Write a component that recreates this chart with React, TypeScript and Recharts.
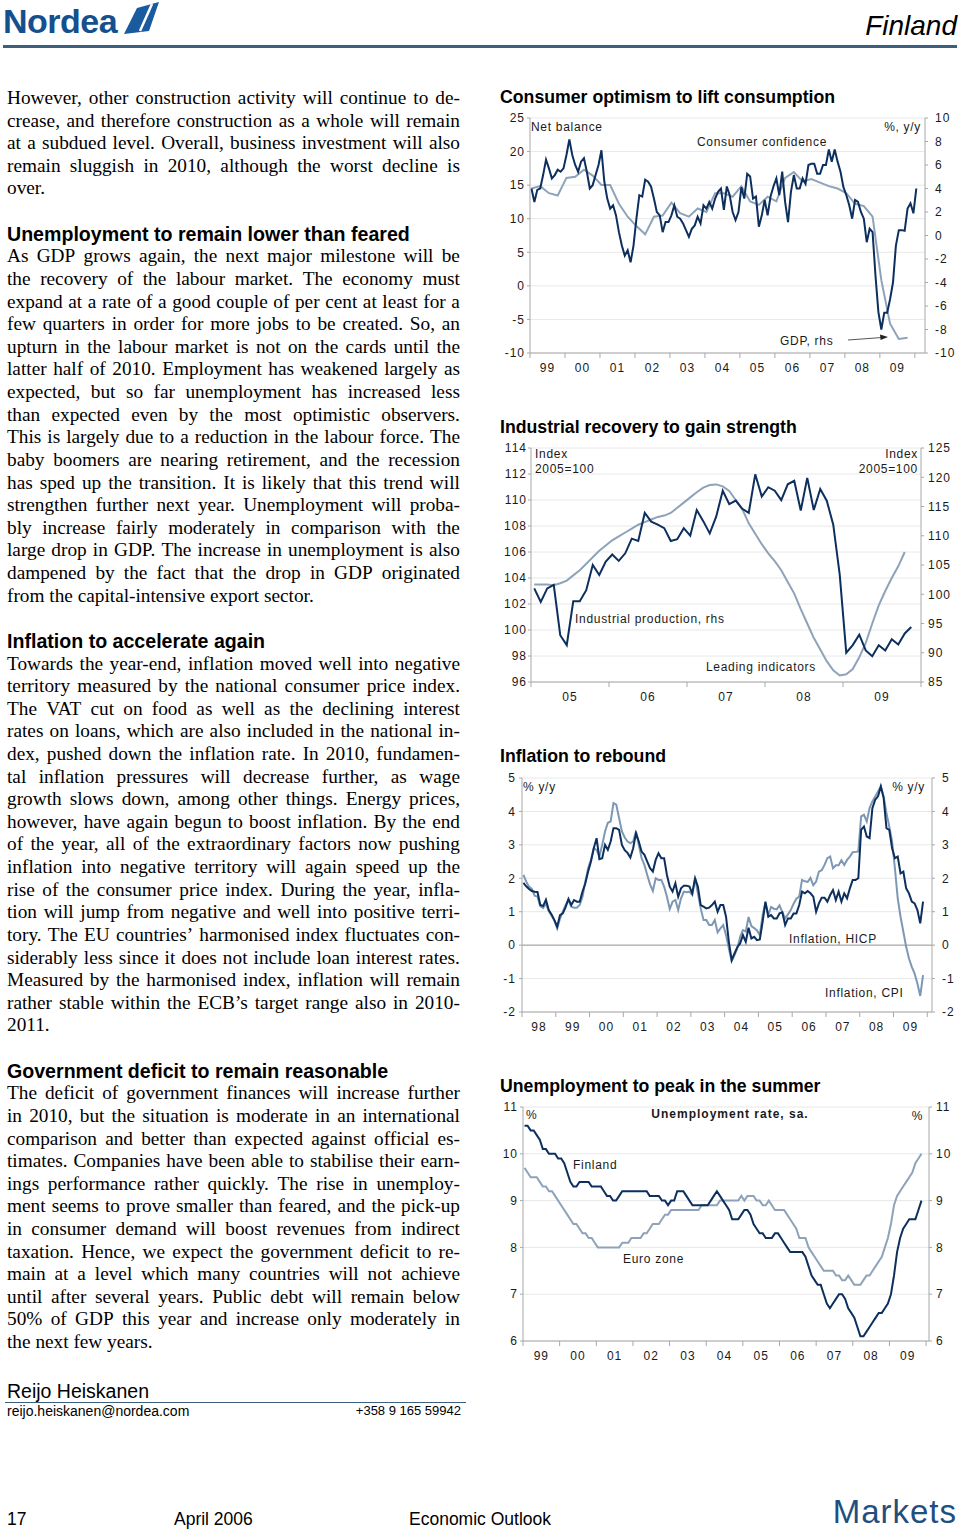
import React from 'react';
import { LineChart, Line, XAxis, YAxis, CartesianGrid, ReferenceLine } from 'recharts';

const SANS = '"Liberation Sans", Arial, sans-serif';
const SERIF = '"Liberation Serif", "Times New Roman", serif';
const DARK = '#0c2f5e';
const LIGHT = '#8ea3b9';
const AXIS = '#a8a8a8';
const BLUE = '#14508e';

// ---- Consumer optimism (monthly from Jan 1999, GDP quarterly) ----
const confidence = [
  14.5, 12.5, 14.3, 14.5, 16.5, 18.8, 17.5, 16.0, 16.5, 17.3, 17.0, 17.5,
  19.5, 21.8, 19.5, 18.0, 17.0, 18.5, 19.0, 17.0, 14.5, 15.0, 16.5, 18.0,
  20.2, 15.5, 13.0, 11.5, 12.0, 10.5, 8.0, 6.0, 4.5, 5.3, 3.5, 6.0,
  10.0, 13.5, 13.3, 15.8, 15.5, 14.8, 13.0, 11.0, 10.5, 8.0, 9.5, 9.5,
  10.5, 12.0, 10.3, 10.0, 9.3, 8.3, 7.3, 8.5, 9.0, 10.3, 9.3, 12.0,
  11.5, 12.5, 11.5, 13.0, 14.0, 14.5, 11.3, 14.8, 13.5, 11.0, 9.8, 11.0,
  14.7, 13.0, 16.7, 16.3, 13.0, 13.3, 8.8, 10.5, 12.8, 10.5, 13.3, 14.8,
  16.0, 13.5, 17.0, 12.5, 9.5, 14.0, 16.5, 14.5, 14.5, 16.0, 15.2, 18.0,
  18.2, 18.2, 16.7, 16.7, 18.0, 18.0, 20.3, 18.5, 20.3, 18.5, 17.0, 14.7,
  13.5, 12.0, 10.0, 12.8, 12.5, 11.0, 10.0, 6.5, 8.5, 8.0, 1.5, -3.9,
  -6.5, -4.0, -4.0, -2.0, 0.5, 6.0, 8.3, 8.3, 8.2, 11.5, 12.3, 10.8,
  14.5,
];
const gdp = [
  4.0, 4.2, 3.6, 3.4, 4.9, 5.0, 5.6, 5.1, 4.3, 4.3, 2.7, 1.6,
  0.8, 0.1, 1.6, 1.7, 2.8, 1.9, 1.6, 2.3, 2.0, 3.6, 3.6, 3.3,
  4.2, 2.9, 2.6, 3.3, 2.9, 4.9, 5.4, 4.6, 4.8, 4.5, 4.2, 4.0,
  3.6, 2.7, 2.5, 1.6, -3.8, -7.5, -8.8, -8.7,
];

// ---- Industrial recovery (monthly from Jan 2005) ----
const industrialProduction = [
  101.0, 98.7, 101.0, 101.6, 93.0, 91.3, 98.8, 98.8, 100.7, 105.0, 103.3, 105.6,
  106.8, 105.7, 107.0, 109.5, 109.1, 113.9, 112.4, 111.9, 111.3, 109.1, 109.4, 111.3,
  110.0, 114.4, 112.5, 110.4, 113.3, 117.7, 115.4, 116.0, 114.6, 113.9, 120.5, 116.7,
  118.3, 117.7, 116.1, 118.8, 119.4, 114.3, 119.9, 114.4, 118.0, 116.0, 111.9, 103.3,
  90.0, 91.3, 93.1, 90.4, 89.4, 91.3, 90.4, 92.3, 91.4, 93.3, 94.4,
];
const leadingIndicators = [
  103.5, 103.5, 103.5, 103.45, 103.6, 103.8, 104.2, 104.6, 105.1, 105.6, 106.1, 106.5,
  106.9, 107.2, 107.5, 107.8, 108.1, 108.3, 108.5, 108.7, 108.8, 109.0, 109.4, 109.8,
  110.2, 110.6, 110.95, 111.15, 111.2, 111.05, 110.7, 110.0, 109.3, 108.2, 107.4, 106.6,
  105.9, 105.3, 104.6, 103.7, 102.8, 101.6, 100.5, 99.4, 98.5, 97.6, 96.9, 96.5,
  96.6, 97.0, 97.9, 99.0, 100.5, 101.9, 103.0, 104.0, 104.9, 106.0,
];

// ---- Inflation (monthly from Jan 1998) ----
const hicp = [
  1.86, 1.76, 1.68, 1.62, 1.6, 1.59, 1.2, 1.17, 1.36, 1.05, 0.92, 0.75,
  0.55, 0.9, 0.95, 1.14, 1.38, 1.2, 1.35, 1.3, 1.3, 1.6, 1.85, 2.2,
  2.5, 2.9, 3.2, 2.57, 2.6, 3.0, 2.85, 3.1, 3.5, 3.5, 3.45, 3.0,
  2.84, 2.76, 2.62, 2.9, 3.35, 3.1, 2.8, 2.7, 2.5, 2.3, 2.2, 2.55,
  2.75, 2.6, 2.6, 2.1, 1.75, 1.6, 1.85, 1.45, 1.7, 1.78, 1.78, 1.75,
  1.55, 2.0, 1.75, 1.2, 1.15, 1.1, 1.12, 1.2, 1.3, 1.0, 1.2, 1.2,
  0.85, 0.1, -0.45, -0.25, -0.06, 0.05, 0.3, 0.1, 0.52, 0.2, 0.25, 0.15,
  0.17, 0.7, 1.3, 0.85, 0.9, 0.8, 0.8, 0.95, 0.98, 0.6, 0.8, 0.8,
  0.95, 0.95, 1.2, 1.6, 1.55, 1.62, 1.55, 1.45, 1.0, 1.25, 1.42, 1.42,
  1.3, 1.5, 1.65, 1.35, 1.6, 1.3, 1.55, 1.4, 1.7, 1.95, 1.95, 2.0,
  3.45, 3.55, 3.25, 3.2, 4.1, 4.35, 4.45, 4.75, 4.4, 3.5, 3.45, 2.9,
  2.6, 2.65, 2.15, 2.2, 1.7, 1.55, 1.3, 1.25, 1.05, 0.65, 1.3,
];
const cpi = [
  2.1, 1.9, 1.75, 1.68, 1.48, 1.45, 1.17, 1.11, 1.24, 1.02, 0.88, 0.74,
  0.5, 0.79, 1.0, 1.2, 1.35, 1.15, 1.12, 1.12, 1.2, 1.45, 1.9, 2.3,
  2.55, 2.9, 2.85, 2.65, 3.0, 3.4, 3.66, 3.7, 4.25, 4.2, 3.8, 3.4,
  3.22, 3.1, 3.05, 3.1, 3.4, 3.0, 2.6, 2.4, 2.1, 1.82, 1.62, 2.0,
  1.95, 1.95, 1.75, 1.45, 1.08, 1.3, 1.35, 1.05, 1.4, 1.6, 1.58, 1.6,
  1.5, 2.0, 1.55, 1.1, 0.75, 0.75, 0.6, 0.6, 0.75, 0.38, 0.5, 0.6,
  0.3, -0.1, -0.48, -0.3, -0.1, 0.25, 0.45, 0.41, 0.84, 0.57, 0.51, 0.44,
  0.3, 0.9, 1.27, 0.9, 1.14, 1.09, 1.07, 1.19, 0.99, 0.8, 0.92, 1.05,
  1.24, 1.39, 1.45, 1.95, 1.91, 1.89, 2.01, 1.79, 1.9, 2.2, 2.24, 2.4,
  2.6, 2.65, 2.3, 2.39, 2.39, 2.54, 2.4, 2.55, 2.65, 2.78, 2.79, 2.8,
  3.85, 3.9, 3.7, 4.1, 4.3, 4.45, 4.6, 4.75, 4.45, 3.95, 3.55, 3.1,
  2.3, 1.4, 0.85, 0.4, -0.05, -0.4, -0.65, -0.85, -1.15, -1.52, -0.9,
];

// ---- Unemployment (monthly from Jan 1999) ----
const finland = [
  10.6, 10.6, 10.5, 10.5, 10.4, 10.3, 10.1, 10.1, 10.0, 10.0, 10.0, 9.9,
  9.9, 9.8, 9.6, 9.4, 9.3, 9.3, 9.4, 9.4, 9.4, 9.4, 9.3, 9.3,
  9.3, 9.3, 9.2, 9.1, 9.1, 9.0, 9.0, 9.1, 9.2, 9.2, 9.2, 9.2,
  9.2, 9.2, 9.2, 9.2, 9.2, 9.1, 9.1, 9.1, 9.1, 9.0, 9.0, 8.9,
  9.0, 9.0, 9.2, 9.2, 9.2, 9.1, 9.0, 8.9, 8.9, 8.9, 8.9, 8.9,
  8.9, 9.0, 9.1, 9.2, 9.1, 9.0, 8.9, 8.8, 8.6, 8.6, 8.6, 8.7,
  8.8, 8.8, 8.7, 8.5, 8.4, 8.3, 8.3, 8.2, 8.2, 8.2, 8.3, 8.3,
  8.2, 8.1, 8.0, 7.9, 7.9, 7.9, 7.9, 7.9, 7.8, 7.6, 7.4, 7.3,
  7.2, 7.2, 7.0, 6.8, 6.7, 6.8, 6.9, 7.0, 7.0, 6.9, 6.7, 6.6,
  6.5, 6.3, 6.1, 6.1, 6.2, 6.3, 6.4, 6.5, 6.6, 6.6, 6.7, 6.8,
  7.0, 7.4, 7.9, 8.2, 8.4, 8.5, 8.6, 8.6, 8.6, 8.8, 9.0,
];
const euroZone = [
  9.7, 9.6, 9.5, 9.5, 9.5, 9.4, 9.3, 9.3, 9.2, 9.2, 9.1, 9.0,
  8.9, 8.8, 8.7, 8.6, 8.5, 8.5, 8.4, 8.3, 8.3, 8.2, 8.2, 8.1,
  8.0, 8.0, 8.0, 8.0, 8.0, 8.0, 8.0, 8.0, 8.1, 8.1, 8.1, 8.2,
  8.2, 8.2, 8.2, 8.3, 8.3, 8.4, 8.5, 8.5, 8.5, 8.6, 8.7, 8.7,
  8.8, 8.8, 8.8, 8.8, 8.8, 8.8, 8.8, 8.8, 8.8, 8.8, 8.9, 8.9,
  8.9, 8.9, 8.9, 8.9, 9.0, 9.0, 9.0, 9.0, 9.0, 9.0, 9.0, 9.1,
  9.0, 9.1, 9.1, 9.1, 9.0, 9.0, 8.9, 8.9, 9.0, 8.9, 8.8, 8.8,
  8.8, 8.8, 8.7, 8.6, 8.5, 8.4, 8.2, 8.2, 8.2, 8.0, 7.9, 7.8,
  7.7, 7.6, 7.5, 7.5, 7.5, 7.5, 7.4, 7.4, 7.3, 7.3, 7.4, 7.3,
  7.2, 7.2, 7.2, 7.3, 7.4, 7.4, 7.5, 7.6, 7.7, 7.8, 8.0, 8.2,
  8.5, 8.9, 9.1, 9.2, 9.3, 9.4, 9.5, 9.6, 9.8, 9.9, 10.0,
];

const range = (a: number, b: number, step = 1) => {
  const out: number[] = [];
  for (let v = a; v <= b + 1e-9; v += step) out.push(Math.round(v * 100) / 100);
  return out;
};
const monthly = (start: number, vals: number[]) => vals.map((v, i) => ({ x: start + i / 12 + 1 / 24, y: v }));
const quarterly = (start: number, vals: number[]) => vals.map((v, i) => ({ x: start + i / 4 + 1 / 24, y: v }));

type Pt = { x: number; y: number };
type Series = { name: string; data: Pt[]; axis: 'left' | 'right'; color: string };
type PanelProps = {
  plotLeft: number; plotTop: number; plotW: number; plotH: number;
  xDomain: [number, number]; years: number[];
  leftDomain: [number, number]; leftTicks: number[];
  rightDomain: [number, number]; rightTicks: number[];
  leftGap: number; rightGap: number;
  series: Series[];
  zero?: boolean;
};

function Panel(p: PanelProps) {
  const LW = 45, RW = 45, TM = 10, XH = 30;
  const half = p.plotW / (p.xDomain[1] - p.xDomain[0]) / 2;
  const tickFont = { fontSize: 12, fill: '#1a1a1a', fontFamily: SANS, letterSpacing: 1 };
  const XTick = (t: any) => {
    const yr = t.payload.value;
    const label = yr + 0.5 < p.xDomain[1] ? String(yr % 100).padStart(2, '0') : '';
    return (
      <g>
        <line x1={t.x} x2={t.x} y1={t.y} y2={t.y + 5} stroke={AXIS} />
        {label && (
          <text x={t.x + half} y={t.y + 19} textAnchor="middle" fontSize={12} fontFamily={SANS} fill="#1a1a1a" letterSpacing={1}>
            {label}
          </text>
        )}
      </g>
    );
  };
  return (
    <div style={{ position: 'absolute', left: p.plotLeft - LW, top: p.plotTop - TM }}>
      <LineChart width={LW + p.plotW + RW} height={TM + p.plotH + XH} margin={{ top: TM, right: 0, bottom: 0, left: 0 }}>
        <CartesianGrid yAxisId="left" vertical={false} stroke="#e8e8e8" />
        <XAxis dataKey="x" type="number" domain={p.xDomain} ticks={p.years} interval={0} allowDataOverflow
          tick={XTick} tickLine={false} tickSize={0} tickMargin={0} height={XH} stroke={AXIS} />
        <YAxis yAxisId="left" orientation="left" width={LW} domain={p.leftDomain} ticks={p.leftTicks} interval={0}
          allowDataOverflow tickSize={3} tickMargin={p.leftGap - 3} tick={tickFont} stroke={AXIS} />
        <YAxis yAxisId="right" orientation="right" width={RW} domain={p.rightDomain} ticks={p.rightTicks} interval={0}
          allowDataOverflow tickSize={3} tickMargin={p.rightGap - 3} tick={tickFont} stroke={AXIS} />
        {p.zero && <ReferenceLine yAxisId="left" y={0} stroke="#9a9a9a" />}
        {p.series.map((s) => (
          <Line key={s.name} yAxisId={s.axis} data={s.data} dataKey="y" type="linear" stroke={s.color}
            strokeWidth={2} dot={false} isAnimationActive={false} />
        ))}
      </LineChart>
    </div>
  );
}

const Label = ({ x, y, text, align = 'left', bold = false, spacing = 0.7 }: { x: number; y: number; text: string; align?: 'left' | 'right' | 'center'; bold?: boolean; spacing?: number }) => {
  const style: React.CSSProperties = {
    position: 'absolute', top: y - 8, height: 16, lineHeight: '16px', fontSize: 12, fontFamily: SANS,
    letterSpacing: spacing, color: '#1a1a1a', whiteSpace: 'nowrap', fontWeight: bold ? 'bold' : 'normal',
  };
  if (align === 'left') style.left = x;
  if (align === 'right') style.right = 960 - x;
  if (align === 'center') { style.left = x - 150; style.width = 300; style.textAlign = 'center'; }
  return <div style={style}>{text}</div>;
};

const Title = ({ y, text }: { y: number; text: string }) => (
  <div style={{ position: 'absolute', left: 500, top: y - 11, lineHeight: '22px', fontSize: 17.7, fontWeight: 'bold', fontFamily: SANS, color: '#000', whiteSpace: 'nowrap' }}>{text}</div>
);

const bodyLines = [
  'However, other construction activity will continue to de-',
  'crease, and therefore construction as a whole will remain',
  'at a subdued level. Overall, business investment will also',
  'remain sluggish in 2010, although the worst decline is',
  'over.',
  '',
  '#Unemployment to remain lower than feared',
  'As GDP grows again, the next major milestone will be',
  'the recovery of the labour market. The economy must',
  'expand at a rate of a good couple of per cent at least for a',
  'few quarters in order for more jobs to be created. So, an',
  'upturn in the labour market is not on the cards until the',
  'latter half of 2010. Employment has weakened largely as',
  'expected, but so far unemployment has increased less',
  'than expected even by the most optimistic observers.',
  'This is largely due to a reduction in the labour force. The',
  'baby boomers are nearing retirement, and the recession',
  'has sped up the transition. It is likely that this trend will',
  'strengthen further next year. Unemployment will proba-',
  'bly increase fairly moderately in comparison with the',
  'large drop in GDP. The increase in unemployment is also',
  'dampened by the fact that the drop in GDP originated',
  'from the capital-intensive export sector.',
  '',
  '#Inflation to accelerate again',
  'Towards the year-end, inflation moved well into negative',
  'territory measured by the national consumer price index.',
  'The VAT cut on food as well as the declining interest',
  'rates on loans, which are also included in the national in-',
  'dex, pushed down the inflation rate. In 2010, fundamen-',
  'tal inflation pressures will decrease further, as wage',
  'growth slows down, among other things. Energy prices,',
  'however, have again begun to boost inflation. By the end',
  'of the year, all of the extraordinary factors now pushing',
  'inflation into negative territory will again speed up the',
  'rise of the consumer price index. During the year, infla-',
  'tion will jump from negative and well into positive terri-',
  'tory. The EU countries\u2019 harmonised index fluctuates con-',
  'siderably less since it does not include loan interest rates.',
  'Measured by the harmonised index, inflation will remain',
  'rather stable within the ECB\u2019s target range also in 2010-',
  '2011.',
  '',
  '#Government deficit to remain reasonable',
  'The deficit of government finances will increase further',
  'in 2010, but the situation is moderate in an international',
  'comparison and better than expected against official es-',
  'timates. Companies have been able to stabilise their earn-',
  'ings performance rather quickly. The rise in unemploy-',
  'ment seems to prove smaller than feared, and the pick-up',
  'in consumer demand will boost revenues from indirect',
  'taxation. Hence, we expect the government deficit to re-',
  'main at a level which many countries will not achieve',
  'until after several years. Public debt will remain below',
  '50% of GDP this year and increase only moderately in',
  'the next few years.',
];

function Body() {
  return (
    <>
      {bodyLines.map((line, k) => {
        if (!line) return null;
        const top = 98 + 22.62 * k - 11;
        if (line.startsWith('#')) {
          return (
            <div key={k} style={{ position: 'absolute', left: 7, top, lineHeight: '22px', fontSize: 19.6, fontWeight: 'bold', fontFamily: SANS, whiteSpace: 'nowrap' }}>
              {line.slice(1)}
            </div>
          );
        }
        const next = bodyLines[k + 1];
        const last = !next || next.startsWith('#');
        const base: React.CSSProperties = { position: 'absolute', left: 7, top, width: 453, height: 22, lineHeight: '22px', fontSize: 19.3, fontFamily: SERIF, color: '#000', whiteSpace: 'nowrap' };
        if (last) return <div key={k} style={base}>{line}</div>;
        return (
          <div key={k} style={{ ...base, display: 'flex', justifyContent: 'space-between' }}>
            {line.split(' ').map((w, i) => <span key={i}>{w}</span>)}
          </div>
        );
      })}
    </>
  );
}

export default function App() {
  return (
    <div style={{ position: 'absolute', left: 0, top: 0, width: 960, height: 1534, background: '#fff', overflow: 'hidden', fontFamily: SANS }}>
      {/* header */}
      <div style={{ position: 'absolute', left: 3, top: 1, fontSize: 34, fontWeight: 'bold', color: BLUE, fontFamily: SANS, letterSpacing: -0.5, lineHeight: '40px' }}>Nordea</div>
      <svg style={{ position: 'absolute', left: 0, top: 0 }} width={170} height={40}>
        <polygon points="124,34 137,8 159,2 149,31" fill="#1a5a9e" />
        <line x1={140} y1={31} x2={152} y2={4} stroke="#fff" strokeWidth={2.5} />
      </svg>
      <div style={{ position: 'absolute', right: 3, top: 8, fontSize: 28, fontStyle: 'italic', fontFamily: SANS, lineHeight: '36px', color: '#000' }}>Finland</div>
      <div style={{ position: 'absolute', left: 3, top: 45, width: 954, height: 3, background: '#3d5f7e' }} />

      <Body />

      {/* author */}
      <div style={{ position: 'absolute', left: 7, top: 1380, fontSize: 19.5, lineHeight: '22px', fontFamily: SANS }}>Reijo Heiskanen</div>
      <div style={{ position: 'absolute', left: 5, top: 1401.5, width: 461, height: 1.5, background: '#3d5f7e' }} />
      <div style={{ position: 'absolute', left: 7, top: 1403, fontSize: 14, lineHeight: '16px', fontFamily: SANS }}>reijo.heiskanen@nordea.com</div>
      <div style={{ position: 'absolute', right: 960 - 461, top: 1403, fontSize: 13, lineHeight: '16px', fontFamily: SANS }}>+358 9 165 59942</div>

      {/* footer */}
      <div style={{ position: 'absolute', left: 7, top: 1508, fontSize: 17.5, lineHeight: '22px', fontFamily: SANS }}>17</div>
      <div style={{ position: 'absolute', left: 174, top: 1508, fontSize: 17.5, lineHeight: '22px', fontFamily: SANS }}>April 2006</div>
      <div style={{ position: 'absolute', left: 409, top: 1508, fontSize: 17.5, lineHeight: '22px', fontFamily: SANS }}>Economic Outlook</div>
      <div style={{ position: 'absolute', right: 3, top: 1494, fontSize: 33, letterSpacing: 1, lineHeight: '36px', fontFamily: SANS, color: '#1f4e80' }}>Markets</div>

      {/* chart 1 */}
      <Title y={97} text="Consumer optimism to lift consumption" />
      <Panel plotLeft={530} plotTop={118} plotW={395} plotH={235} xDomain={[1999, 2010.29]} years={range(1999, 2010)}
        leftDomain={[-10, 25]} leftTicks={range(-10, 25, 5)} rightDomain={[-10, 10]} rightTicks={range(-10, 10, 2)}
        leftGap={5} rightGap={10}
        series={[
          { name: 'gdp', data: quarterly(1999, gdp), axis: 'right', color: LIGHT },
          { name: 'conf', data: monthly(1999, confidence), axis: 'left', color: DARK },
        ]} />
      <Label x={531} y={127} text="Net balance" />
      <Label x={921} y={127} text="%, y/y" align="right" />
      <Label x={697} y={142} text="Consumer confidence" />
      <Label x={780} y={341} text="GDP, rhs" />
      <svg style={{ position: 'absolute', left: 840, top: 330 }} width={56} height={16}>
        <line x1={8} y1={10} x2={42} y2={7.5} stroke="#555" strokeWidth={1} />
        <polygon points="48,7 40,4.5 40.6,10" fill="#222" />
      </svg>

      {/* chart 2 */}
      <Title y={427} text="Industrial recovery to gain strength" />
      <Panel plotLeft={531} plotTop={448} plotW={390} plotH={234} xDomain={[2005, 2010]} years={range(2005, 2010)}
        leftDomain={[96, 114]} leftTicks={range(96, 114, 2)} rightDomain={[85, 125]} rightTicks={range(85, 125, 5)}
        leftGap={4} rightGap={7}
        series={[
          { name: 'lead', data: monthly(2005, leadingIndicators), axis: 'left', color: LIGHT },
          { name: 'ip', data: monthly(2005, industrialProduction), axis: 'right', color: DARK },
        ]} />
      <Label x={535} y={454} text="Index" />
      <Label x={535} y={469} text="2005=100" />
      <Label x={918} y={454} text="Index" align="right" />
      <Label x={918} y={469} text="2005=100" align="right" />
      <Label x={575} y={619} text="Industrial production, rhs" />
      <Label x={706} y={667} text="Leading indicators" />

      {/* chart 3 */}
      <Title y={756} text="Inflation to rebound" />
      <Panel plotLeft={522} plotTop={778} plotW={410} plotH={234} xDomain={[1998, 2010.14]} years={range(1998, 2010)}
        leftDomain={[-2, 5]} leftTicks={range(-2, 5)} rightDomain={[-2, 5]} rightTicks={range(-2, 5)}
        leftGap={6} rightGap={10} zero
        series={[
          { name: 'cpi', data: monthly(1998, cpi), axis: 'left', color: '#7d98b5' },
          { name: 'hicp', data: monthly(1998, hicp), axis: 'left', color: DARK },
        ]} />
      <Label x={523} y={787} text="% y/y" />
      <Label x={925} y={787} text="% y/y" align="right" />
      <Label x={789} y={939} text="Inflation, HICP" />
      <Label x={825} y={993} text="Inflation, CPI" />

      {/* chart 4 */}
      <Title y={1086} text="Unemployment to peak in the summer" />
      <Panel plotLeft={523} plotTop={1107} plotW={406} plotH={234} xDomain={[1999, 2010.08]} years={range(1999, 2010)}
        leftDomain={[6, 11]} leftTicks={range(6, 11)} rightDomain={[6, 11]} rightTicks={range(6, 11)}
        leftGap={5} rightGap={7}
        series={[
          { name: 'euro', data: monthly(1999, euroZone), axis: 'left', color: LIGHT },
          { name: 'fin', data: monthly(1999, finland), axis: 'left', color: DARK },
        ]} />
      <Label x={526} y={1115} text="%" />
      <Label x={730} y={1114} text="Unemployment rate, sa." align="center" bold spacing={1} />
      <Label x={923} y={1116} text="%" align="right" />
      <Label x={573} y={1165} text="Finland" />
      <Label x={623} y={1259} text="Euro zone" />
    </div>
  );
}
